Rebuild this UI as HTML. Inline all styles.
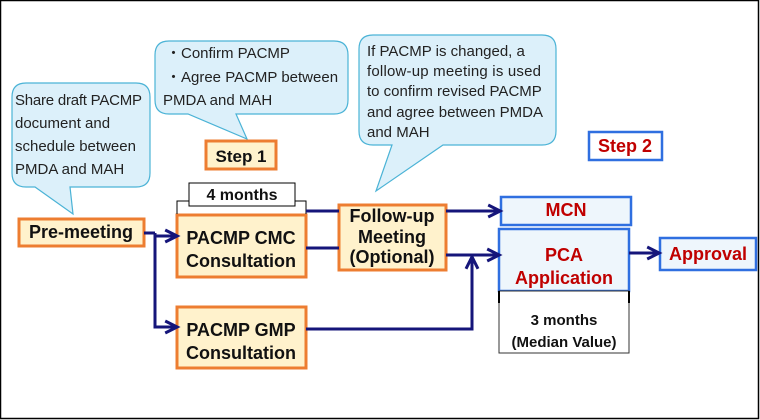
<!DOCTYPE html>
<html><head><style>
html,body{margin:0;padding:0;background:#fff;}
svg{display:block;font-family:"Liberation Sans",sans-serif;}
</style></head><body>
<svg width="760" height="420" viewBox="0 0 760 420" xmlns="http://www.w3.org/2000/svg">
<defs>
<marker id="a" viewBox="0 0 10 10" refX="9" refY="5" markerWidth="12" markerHeight="12" orient="auto" markerUnits="userSpaceOnUse" style="overflow:visible">
<path d="M0,0 L10,5 L0,10" fill="none" stroke="#15157a" stroke-width="2.5"/>
</marker>
</defs>
<rect x="0.5" y="0.5" width="758" height="418" fill="#fff" stroke="#000" stroke-width="1.5"/>
<g fill="#dcf0fa" stroke="#4bb3d6" stroke-width="1.2">
<path d="M26,83 H136 Q150,83 150,97 V173 Q150,187 136,187 H70 L73,214 L35,187 H26 Q12,187 12,173 V97 Q12,83 26,83 Z"/>
<path d="M169,41 H334 Q348,41 348,55 V100 Q348,114 334,114 H236 L247,139 L188,114 H169 Q155,114 155,100 V55 Q155,41 169,41 Z"/>
<path d="M373,35 H542 Q556,35 556,49 V131 Q556,145 542,145 H443 L376,191 L392,145 H373 Q359,145 359,131 V49 Q359,35 373,35 Z"/>
</g>
<g font-size="15" fill="#222">
<text x="15" y="105" textLength="127">Share draft PACMP</text>
<text x="15" y="128">document and</text>
<text x="15" y="151">schedule between</text>
<text x="15" y="174">PMDA and MAH</text>
<text x="166" y="58">・Confirm PACMP</text>
<text x="166" y="82">・Agree PACMP between</text>
<text x="163" y="105">PMDA and MAH</text>
<text x="367" y="56">If PACMP is changed, a</text>
<text x="367" y="76" textLength="174">follow-up meeting is used</text>
<text x="367" y="96">to confirm revised PACMP</text>
<text x="367" y="117">and agree between PMDA</text>
<text x="367" y="137">and MAH</text>
</g>
<g fill="#fff2cc" stroke="#ed7d31" stroke-width="3">
<rect x="206" y="141" width="70" height="28"/>
<rect x="19" y="219" width="125" height="27"/>
<rect x="177" y="215" width="129" height="62"/>
<rect x="177" y="307" width="129" height="61"/>
<rect x="339" y="205" width="107" height="65"/>
</g>
<g fill="#eef6fc" stroke="#2f6fe0" stroke-width="2.5">
<rect x="589" y="132" width="73" height="28" fill="#fff"/>
<rect x="501" y="197" width="130" height="28"/>
<rect x="499" y="229" width="130" height="62"/>
<rect x="660" y="238" width="96" height="32"/>
</g>
<rect x="499" y="291" width="130" height="62" fill="#fff" stroke="#333" stroke-width="1"/>
<path d="M499,291 v12 M629,291 v12" stroke="#000" stroke-width="2"/>
<path d="M177,214 V201 H306 V214" fill="none" stroke="#000" stroke-width="1"/>
<rect x="189" y="183" width="106" height="23" fill="#fff" stroke="#000" stroke-width="1"/>
<g font-weight="bold" text-anchor="middle" fill="#111">
<text x="241" y="162" font-size="17">Step 1</text>
<text x="242" y="200" font-size="16">4 months</text>
<text x="81" y="238" font-size="18">Pre-meeting</text>
<text x="241" y="244" font-size="18">PACMP CMC</text>
<text x="241" y="267" font-size="18">Consultation</text>
<text x="241" y="336" font-size="18">PACMP GMP</text>
<text x="241" y="359" font-size="18">Consultation</text>
<text x="392" y="222" font-size="18">Follow-up</text>
<text x="392" y="243" font-size="18">Meeting</text>
<text x="392" y="263" font-size="18">(Optional)</text>
<text x="564" y="325" font-size="15">3 months</text>
<text x="564" y="347" font-size="15">(Median Value)</text>
</g>
<g font-weight="bold" text-anchor="middle" fill="#c00000" font-size="18">
<text x="625" y="152">Step 2</text>
<text x="566" y="216">MCN</text>
<text x="564" y="261">PCA</text>
<text x="564" y="284">Application</text>
<text x="708" y="260">Approval</text>
</g>
<g fill="none" stroke="#15157a" stroke-width="3">
<path d="M144,233 H155"/>
<path d="M155,233 V236 H176" marker-end="url(#a)"/>
<path d="M155,233 V327 H176" marker-end="url(#a)"/>
<path d="M306,211 H339"/>
<path d="M306,248 H339"/>
<path d="M446,211 H499" marker-end="url(#a)"/>
<path d="M446,255 H498" marker-end="url(#a)"/>
<path d="M306,329 H472 V258" marker-end="url(#a)"/>
<path d="M629,253 H658" marker-end="url(#a)"/>
</g>
</svg>
</body></html>
